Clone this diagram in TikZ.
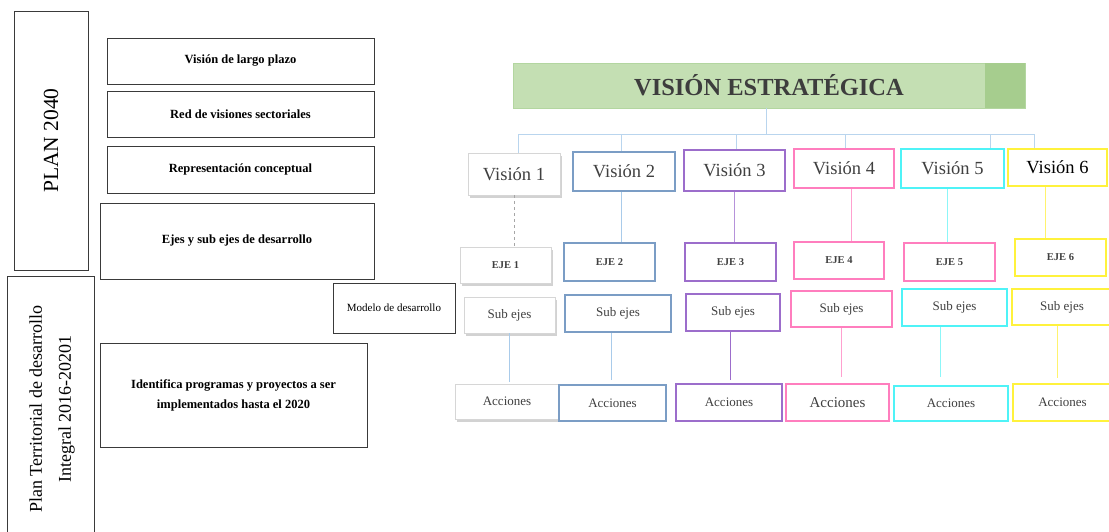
\documentclass[tikz,border=0pt]{standalone}
\usepackage{fontspec}
\setmainfont{Liberation Serif}
\usetikzlibrary{shadows}
\definecolor{lbox}{HTML}{3A3A3A}
\definecolor{cgrey}{HTML}{D6D6D6}
\definecolor{cblue}{HTML}{7B9DC5}
\definecolor{lblue}{HTML}{A9CBEA}
\definecolor{cpurple}{HTML}{9C6DCB}
\definecolor{lpurple}{HTML}{B692DA}
\definecolor{cpink}{HTML}{FF7EBE}
\definecolor{lpink}{HTML}{FFA0CF}
\definecolor{ccyan}{HTML}{4FF3F7}
\definecolor{lcyan}{HTML}{8CF6F8}
\definecolor{cyellow}{HTML}{FFF23C}
\definecolor{lyellow}{HTML}{FFF36E}
\definecolor{tgreen}{HTML}{C4DFB3}
\definecolor{tdark}{HTML}{A6CD8E}
\definecolor{tborder}{HTML}{B3D6A0}
\definecolor{ttext}{HTML}{3D3D3D}
\definecolor{vtext}{HTML}{404040}
\definecolor{treecol}{HTML}{B9D5EE}
\begin{document}
\begin{tikzpicture}[x=1pt,y=-1pt,
  lbox/.style={draw=lbox,line width=1pt,fill=white,inner sep=0pt,align=center,
    font=\fontsize{12.5}{20}\selectfont\bfseries},
  cbox/.style={draw=#1,line width=1.4pt,fill=white,inner sep=0pt,align=center},
  sbox/.style={draw=cgrey,line width=0.8pt,fill=white,inner sep=0pt,align=center,
    drop shadow={shadow xshift=2pt,shadow yshift=-3pt,fill=black!35,opacity=0.5}},
  vis/.style={text=vtext,font=\fontsize{18.5}{20}\selectfont},
  eje/.style={text=vtext,font=\fontsize{10.5}{12}\selectfont\bfseries},
  sub/.style={text=vtext,font=\fontsize{13}{14}\selectfont},
  acc/.style={text=vtext,font=\fontsize{13}{14}\selectfont},
  tree/.style={draw=treecol,line width=0.9pt},
  conn/.style={draw=#1,line width=0.9pt}
]
\useasboundingbox (0,0) rectangle (1109,531);
% ---------- left column ----------
\node[lbox,minimum width=74,minimum height=259] (plan) at (51,140.5) {};
\node[rotate=90,font=\fontsize{21.5}{24}\selectfont] (plant) at (plan.center) {PLAN 2040};
\node[lbox,minimum width=267,minimum height=46] (b1) at (240.5,61) {Visión de largo plazo};
\node[lbox,minimum width=267,minimum height=46] (b2) at (240.5,114) {Red de visiones sectoriales};
\node[lbox,minimum width=267,minimum height=47] (b3) at (240.5,169.5) {Representación conceptual};
\node[lbox,minimum width=274,minimum height=76] (b4) at (237,241) {Ejes y sub ejes de desarrollo};
\node[lbox,minimum width=87,minimum height=264] (pt) at (50.5,408) {};
\node[rotate=90,align=center,font=\fontsize{18}{29}\selectfont] (ptt) at (52,409) {Plan Territorial de desarrollo\\Integral 2016-20201};
\node[lbox,minimum width=122,minimum height=50,font=\fontsize{11}{13}\selectfont] (modelo) at (394,308) {Modelo de desarrollo};
\node[lbox,minimum width=267,minimum height=104] (ident) at (233.5,395) {Identifica programas y proyectos a ser\\implementados hasta el 2020};
% ---------- title ----------
\node[draw=tborder,fill=tgreen,line width=0.8pt,minimum width=512,minimum height=45,inner sep=0pt] (title) at (769,85.5) {};
\fill[tdark] ([xshift=-40pt,yshift=-0.4pt]title.north east) rectangle ([xshift=-0.4pt,yshift=0.4pt]title.south east);
\node[text=ttext,font=\fontsize{24.5}{26}\selectfont\bfseries] (titlet) at (title.center) {VISIÓN ESTRATÉGICA};
% ---------- column 1 ----------
\node[sbox,vis,minimum width=92,minimum height=42] (v1) at (514,174) {Visión 1};
\node[sbox,eje,minimum width=91,minimum height=36] (e1) at (505.5,265) {EJE 1};
\node[sbox,sub,minimum width=91,minimum height=36] (s1) at (509.5,315) {Sub ejes};
\node[sbox,acc,minimum width=104,minimum height=35] (a1) at (507,401.5) {Acciones};
% ---------- column 2 ----------
\node[cbox=cblue,vis,minimum width=102,minimum height=39] (v2) at (624,171.5) {Visión 2};
\node[cbox=cblue,eje,minimum width=91,minimum height=38] (e2) at (609.5,262) {EJE 2};
\node[cbox=cblue,sub,minimum width=106,minimum height=37] (s2) at (618,313.5) {Sub ejes};
\node[cbox=cblue,acc,minimum width=107,minimum height=36] (a2) at (612.5,403) {Acciones};
% ---------- column 3 ----------
\node[cbox=cpurple,vis,minimum width=101,minimum height=41] (v3) at (734.5,170.5) {Visión 3};
\node[cbox=cpurple,eje,minimum width=91,minimum height=38] (e3) at (730.5,262) {EJE 3};
\node[cbox=cpurple,sub,minimum width=94,minimum height=37] (s3) at (733,312.5) {Sub ejes};
\node[cbox=cpurple,acc,minimum width=106,minimum height=37] (a3) at (729,402.5) {Acciones};
% ---------- column 4 ----------
\node[cbox=cpink,vis,minimum width=100,minimum height=39] (v4) at (844,168.5) {Visión 4};
\node[cbox=cpink,eje,minimum width=90,minimum height=37] (e4) at (839,260.5) {EJE 4};
\node[cbox=cpink,sub,minimum width=101,minimum height=36] (s4) at (841.5,309) {Sub ejes};
\node[cbox=cpink,acc,font=\fontsize{15}{16}\selectfont,minimum width=103,minimum height=37] (a4) at (837.5,402.5) {Acciones};
% ---------- column 5 ----------
\node[cbox=ccyan,vis,minimum width=103,minimum height=39] (v5) at (952.5,168.5) {Visión 5};
\node[cbox=cpink,eje,minimum width=91,minimum height=38] (e5) at (949.5,262) {EJE 5};
\node[cbox=ccyan,sub,minimum width=105,minimum height=37] (s5) at (954.5,307.5) {Sub ejes};
\node[cbox=ccyan,acc,minimum width=114,minimum height=35] (a5) at (951,403.5) {Acciones};
% ---------- column 6 ----------
\node[cbox=cyellow,vis,text=black,minimum width=99,minimum height=37] (v6) at (1057.5,167.5) {Visión 6};
\node[cbox=cyellow,eje,minimum width=91,minimum height=37] (e6) at (1060.5,257.5) {EJE 6};
\node[cbox=cyellow,sub,minimum width=100,minimum height=36] (s6) at (1062,307) {Sub ejes};
\node[cbox=cyellow,acc,minimum width=99,minimum height=37] (a6) at (1062.5,402.5) {Acciones};
% ---------- tree ----------
\coordinate (d1) at (518,134);
\coordinate (d2) at (621,134);
\coordinate (d3) at (736,134);
\coordinate (d4) at (845,134);
\coordinate (d5) at (990,134);
\coordinate (d6) at (1034,134);
\draw[tree] ([xshift=-3pt]title.south) -- ([xshift=-3pt]title.south |- d1);
\draw[tree] (d1) -- (d6);
\foreach \i in {1,...,6}{\draw[tree] (d\i) -- (d\i |- v\i.north);}
% ---------- vision -> eje ----------
\draw[draw=gray!70,line width=0.9pt,dashed] (v1.south) -- (v1.south |- e1.north);
\draw[conn=lblue] ([xshift=-3pt]v2.south) -- ([xshift=-3pt]v2.south |- e2.north);
\draw[conn=lpurple] (v3.south) -- (v3.south |- e3.north);
\draw[conn=lpink] ([xshift=7pt]v4.south) -- ([xshift=7pt]v4.south |- e4.north);
\draw[conn=lcyan] ([xshift=-5pt]v5.south) -- ([xshift=-5pt]v5.south |- e5.north);
\draw[conn=lyellow] ([xshift=-12pt]v6.south) -- ([xshift=-12pt]v6.south |- e6.north);
% ---------- sub ejes -> acciones ----------
\draw[conn=lblue] (s1.south) -- ([yshift=2pt]s1.south |- a1.north);
\draw[conn=lblue] ([xshift=-7pt]s2.south) -- ([xshift=-7pt,yshift=4pt]s2.south |- a2.north);
\draw[conn=cpurple] ([xshift=-3pt]s3.south) -- ([xshift=-3pt,yshift=3pt]s3.south |- a3.north);
\draw[conn=lpink] (s4.south) -- ([yshift=6pt]s4.south |- a4.north);
\draw[conn=lcyan] ([xshift=-14pt]s5.south) -- ([xshift=-14pt,yshift=8pt]s5.south |- a5.north);
\draw[conn=lyellow] ([xshift=-5pt]s6.south) -- ([xshift=-5pt,yshift=5pt]s6.south |- a6.north);
\end{tikzpicture}
\end{document}
